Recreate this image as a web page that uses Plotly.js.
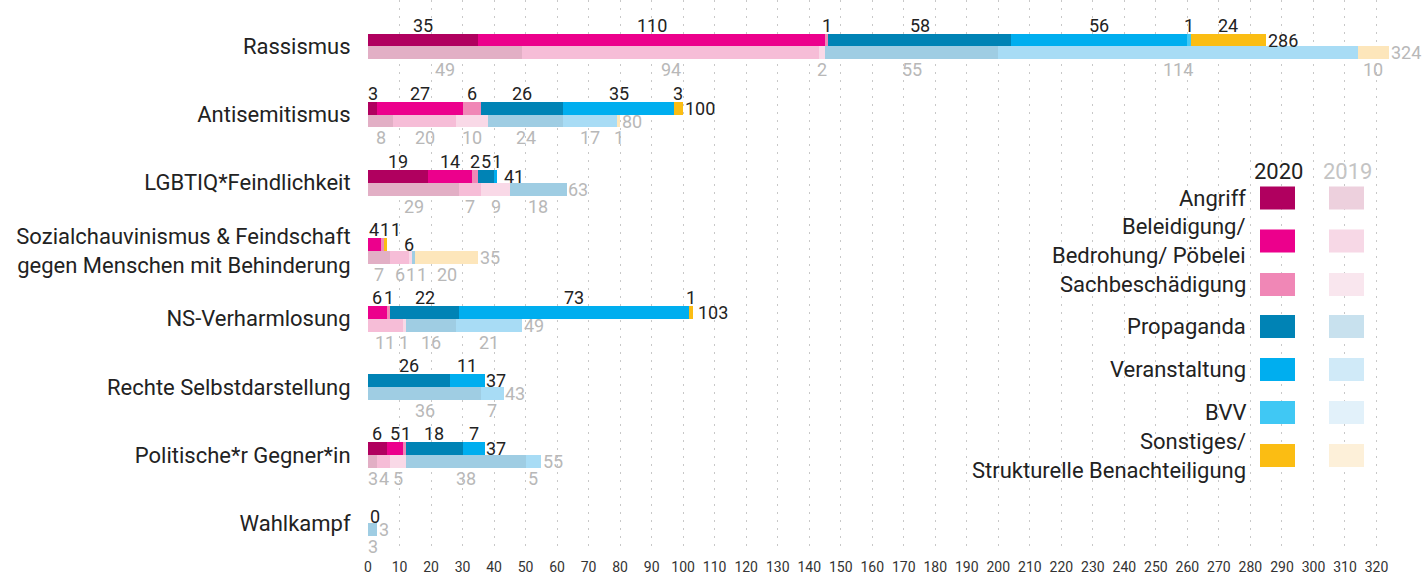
<!DOCTYPE html>
<html>
<head>
<meta charset="utf-8">
<script src="https://cdn.plot.ly/plotly-3.0.1.min.js"></script>
<style>html,body{margin:0;padding:0;background:#fff;}#chart{width:1427px;height:575px;}</style>
</head>
<body>
<div id="chart"></div>
<script>
// ---- data ----
const categories = ['Rassismus','Antisemitismus','LGBTIQ*Feindlichkeit','Sozialchauvinismus & Feindschaft<br>gegen Menschen mit Behinderung','NS-Verharmlosung','Rechte Selbstdarstellung','Politische*r Gegner*in','Wahlkampf'];
const types = ['Angriff','Beleidigung/<br>Bedrohung/ Pöbelei','Sachbeschädigung','Propaganda','Veranstaltung','BVV','Sonstiges/<br>Strukturelle Benachteiligung'];
const years = ['2020','2019'];

const angriff2020     = [35, 3, 19, 0, 0, 0, 6, 0];
const beleidigung2020 = [110, 27, 14, 4, 6, 0, 5, 0];
const sachbesch2020   = [1, 6, 2, 1, 1, 0, 1, 0];
const propaganda2020  = [58, 26, 5, 0, 22, 26, 18, 0];
const veranst2020     = [56, 35, 1, 0, 73, 11, 7, 0];
const bvv2020         = [1, 0, 0, 0, 0, 0, 0, 0];
const sonstiges2020   = [24, 3, 0, 1, 1, 0, 0, 0];
const total2020       = [286, 100, 41, 6, 103, 37, 37, 0];

const angriff2019     = [49, 8, 29, 7, 0, 0, 3, 0];
const beleidigung2019 = [94, 20, 7, 6, 11, 0, 4, 0];
const sachbesch2019   = [2, 10, 9, 1, 1, 0, 5, 0];
const propaganda2019  = [55, 24, 18, 1, 16, 36, 38, 3];
const veranst2019     = [114, 17, 0, 0, 21, 7, 5, 0];
const bvv2019         = [0, 0, 0, 0, 0, 0, 0, 0];
const sonstiges2019   = [10, 1, 0, 20, 0, 0, 0, 0];
const total2019       = [324, 80, 63, 35, 49, 43, 55, 3];

const xTicks = [0,10,20,30,40,50,60,70,80,90,100,110,120,130,140,150,160,170,180,190,200,210,220,230,240,250,260,270,280,290,300,310,320];

// ---- styling ----
const colors2020 = ['#b0005f','#ec008c','#f087b6','#0083b5','#00aeef','#40c8f4','#fbbd13'];
const colors2019 = ['#e2afc5','#f6bdd7','#f9d9e7','#9fcde3','#a8dcf5','#c8ebf9','#fde6bb'];
const legend2019 = ['#edd0dd','#f7d8e6','#f9e6ee','#c8e1ee','#d0eaf8','#e2f1fa','#fdf0d9'];
const FONT = 'Roboto, "Noto Sans", sans-serif';
const DARK = '#222222', GREY = '#b8b8b8';
const LBL = 18, CAT = 22;

const ML = 368, MR = 19, MT = 0, MB = 25, WIDTH = 1427, HEIGHT = 575;
const PW = WIDTH - ML - MR, PH = HEIGHT - MT - MB;
const XMAX = 330;
const SCALE = PW / XMAX; // px per unit
const px = v => (v - ML) / PW;
const py = v => (PH + MT - v) / PH;

const series2020 = [angriff2020, beleidigung2020, sachbesch2020, propaganda2020, veranst2020, bvv2020, sonstiges2020];
const series2019 = [angriff2019, beleidigung2019, sachbesch2019, propaganda2019, veranst2019, bvv2019, sonstiges2019];

const BW = 0.19, OFF = 0.095;
const idx = categories.map((c,i)=>i);
const traces = [];
const annotations = [];
const textW = s => (String(s).length * 0.56 * LBL) / SCALE; // width in data units
const GAP = 1 / SCALE;

function addYear(series, totals, yOff, cols, up){
  const ys = idx.map(i => i + yOff);
  const cum = idx.map(() => 0);
  const labels = idx.map(() => []);
  series.forEach((vals, t) => {
    traces.push({
      type:'bar', orientation:'h', x: vals, y: ys, width: BW,
      marker:{color: cols[t], line:{width:0}},
      name: types[t], showlegend:false, hoverinfo:'skip'
    });
    vals.forEach((v, i) => {
      if (v > 0) labels[i].push({c: cum[i] + v/2, v: v});
      cum[i] += v;
    });
  });
  idx.forEach(i => {
    let prevRight = -Infinity;
    labels[i].forEach(L => {
      const w = textW(L.v);
      let c = L.c;
      if (c - w/2 < prevRight + GAP) c = prevRight + GAP + w/2;
      prevRight = c + w/2;
      annotations.push({
        x: c, y: up ? i + yOff - BW/2 : i + yOff + BW/2,
        xref:'x', yref:'y', text: String(L.v), showarrow:false,
        xanchor:'center', yanchor: up ? 'bottom' : 'top',
        yshift: up ? -3 : 1, borderpad:0,
        font:{family:FONT, size:LBL, color: up ? DARK : GREY}
      });
    });
    const left = Math.max(cum[i] + 0.5 / SCALE, up ? prevRight + GAP : cum[i]);
    annotations.push({
      x: left, y: i + yOff, xref:'x', yref:'y', text: String(totals[i]), showarrow:false,
      xanchor:'left', yanchor:'middle', borderpad:0,
      font:{family:FONT, size:LBL, color: up ? DARK : GREY}
    });
  });
}
addYear(series2020, total2020, -OFF, colors2020, true);
addYear(series2019, total2019, OFF, colors2019, false);

// ---- custom legend (pixel positions converted to paper coords) ----
const shapes = [];
// hide grid below the reference grid end
shapes.push({type:'rect', layer:'below', xref:'paper', yref:'paper', x0:-0.01, x1:1.01, y0:0, y1:py(530), fillcolor:'#ffffff', line:{width:0}});
const rowY = [198, 241, 284.5, 326.5, 369.5, 412.5, 455.5];
annotations.push({xref:'paper', yref:'paper', x: px(1278), y: py(171), text:'2020', showarrow:false, xanchor:'center', yanchor:'middle', font:{family:FONT, size:CAT, color:DARK}});
annotations.push({xref:'paper', yref:'paper', x: px(1347), y: py(171), text:'2019', showarrow:false, xanchor:'center', yanchor:'middle', font:{family:FONT, size:CAT, color:'#c4c4c4'}});
types.forEach((t, k) => {
  const yc = rowY[k];
  annotations.push({xref:'paper', yref:'paper', x: px(1248), y: py(yc), text: t, showarrow:false, xanchor:'right', yanchor:'middle', align:'right', font:{family:FONT, size:CAT, color:DARK}});
  shapes.push({type:'rect', xref:'paper', yref:'paper', x0: px(1260), x1: px(1295), y0: py(yc-11.5), y1: py(yc+11.5), fillcolor: colors2020[k], line:{width:0}});
  shapes.push({type:'rect', xref:'paper', yref:'paper', x0: px(1329), x1: px(1364), y0: py(yc-11.5), y1: py(yc+11.5), fillcolor: legend2019[k], line:{width:0}});
});

const layout = {
  width: WIDTH, height: HEIGHT,
  margin:{l:ML, r:MR, t:MT, b:MB, pad:0},
  paper_bgcolor:'#fff', plot_bgcolor:'#fff',
  barmode:'stack', bargap:0,
  showlegend:false,
  font:{family:FONT, color:DARK},
  xaxis:{
    range:[0, XMAX], tickvals: xTicks, ticktext: xTicks.map(String),
    showgrid:true, gridcolor:'#c8c8c8', gridwidth:1, griddash:'2px,6px',
    zeroline:false, showline:false,
    ticks:'outside', ticklen:4, tickcolor:'rgba(0,0,0,0)',
    tickfont:{family:FONT, size:14, color:'#333'}, fixedrange:true
  },
  yaxis:{
    range:[7.397, -0.683], tickvals: idx, ticktext: categories,
    showgrid:false, zeroline:false, showline:false,
    ticks:'outside', ticklen:12, tickcolor:'rgba(0,0,0,0)',
    tickfont:{family:FONT, size:CAT, color:DARK}, fixedrange:true
  },
  annotations: annotations,
  shapes: shapes
};

Plotly.newPlot('chart', traces, layout, {displayModeBar:false, staticPlot:true});
</script>
</body>
</html>
